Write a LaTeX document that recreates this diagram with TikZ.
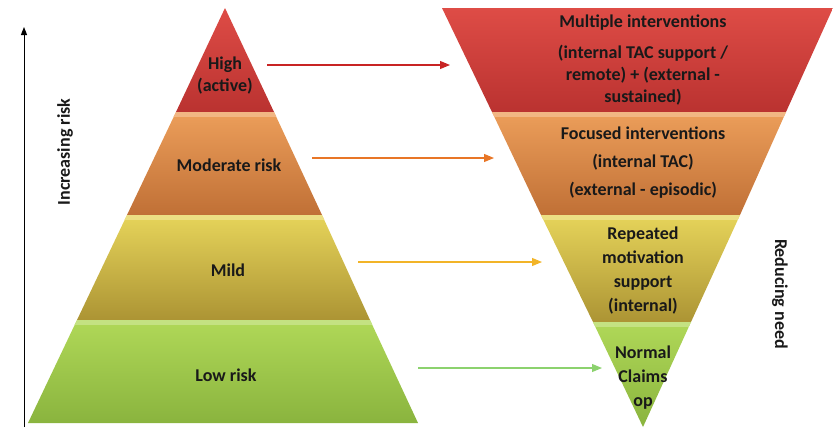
\documentclass[tikz,border=0pt]{standalone}
\usepackage{fontspec}
\setmainfont{Carlito}
\usetikzlibrary{arrows.meta}

% tier colours, light top and dark bottom
\definecolor{redL}{RGB}{222,76,70}
\definecolor{redD}{RGB}{186,50,48}
\definecolor{orgL}{RGB}{236,158,90}
\definecolor{orgD}{RGB}{192,112,54}
\definecolor{yelL}{RGB}{230,212,90}
\definecolor{yelD}{RGB}{172,148,52}
\definecolor{grnL}{RGB}{176,216,88}
\definecolor{grnD}{RGB}{138,180,62}

% one shaded tier with a light bevel along its upper edge
\newcommand{\tier}[4]{%
  \shade[top color=#3, bottom color=#4] #1;
  \begin{scope}
    \clip #1;
    \fill[#3!75!white] (0,#2) rectangle (833,{#2+5});
    \fill[#4!80!black] (0,{#2-2}) rectangle (833,#2);
  \end{scope}}

\begin{document}
\begin{tikzpicture}[x=1pt, y=-1pt,
    lbl/.style={font=\fontsize{18}{22}\selectfont\bfseries, align=center, text=black!90},
    link/.style={line width=1.1pt, -{Triangle[length=10pt,width=8pt]}}]

  \useasboundingbox (0,0) rectangle (833,434);

  % Risk pyramid
  \tier{(225,8)--(274,112)--(176,112)--cycle}{-20}{redL}{redD}
  \tier{(176,112)--(274,112)--(322,215)--(127,215)--cycle}{112}{orgL}{orgD}
  \tier{(127,215)--(322,215)--(370,320)--(77,320)--cycle}{215}{yelL}{yelD}
  \tier{(77,320)--(370,320)--(418,423)--(28,423)--cycle}{320}{grnL}{grnD}

  % Need pyramid, upside down
  \tier{(442,8)--(833,8)--(786,112)--(492,112)--cycle}{-20}{redL}{redD}
  \tier{(492,112)--(786,112)--(740,215)--(541,215)--cycle}{112}{orgL}{orgD}
  \tier{(541,215)--(740,215)--(691,322)--(593,322)--cycle}{215}{yelL}{yelD}
  \tier{(593,322)--(691,322)--(643,427)--cycle}{322}{grnL}{grnD}

  % Define nodes
  \node[lbl] (high)     at (225,76)  {High\\(active)};
  \node[lbl] (moderate) at (229,165) {Moderate risk};
  \node[lbl] (mild)     at (228,270) {Mild};
  \node[lbl] (low)      at (226,375) {Low risk};

  \node[lbl] (multi)    at (643,60)  {Multiple interventions\\[9pt](internal TAC support /\\remote) + (external -\\sustained)};
  \node[lbl] (focused)  at (643,163) {Focused interventions\\[6pt](internal TAC)\\[6pt](external - episodic)};
  \node[lbl] (repeated) at (643,271) {Repeated\\[2pt]motivation\\[2pt]support\\[2pt](internal)};
  \node[lbl] (normal)   at (643,378) {Normal\\[2pt]Claims\\[2pt]op};

  \node[lbl, rotate=90]  (incr) at (65,152)  {Increasing risk};
  \node[lbl, rotate=-90] (redu) at (780,294) {Reducing need};

  % Arrow ends
  \coordinate (axisB) at (24,427);
  \coordinate (axisT) at (24,27);
  \coordinate (hiS) at (267,65);   \coordinate (hiE) at (450,65);
  \coordinate (moS) at (312,158);  \coordinate (moE) at (494,158);
  \coordinate (miS) at (358,262);  \coordinate (miE) at (542,262);
  \coordinate (loS) at (418,368);  \coordinate (loE) at (602,368);

  % Connect the nodes
  \draw[line width=1pt, -{Triangle[length=8pt,width=6pt]}] (axisB) -- (axisT);
  \draw[link, color={rgb,255:red,200;green,36;blue,36}]  (hiS) -- (hiE);
  \draw[link, color={rgb,255:red,232;green,118;blue,38}] (moS) -- (moE);
  \draw[link, color={rgb,255:red,242;green,180;blue,40}] (miS) -- (miE);
  \draw[link, color={rgb,255:red,140;green,210;blue,110}] (loS) -- (loE);

\end{tikzpicture}
\end{document}
